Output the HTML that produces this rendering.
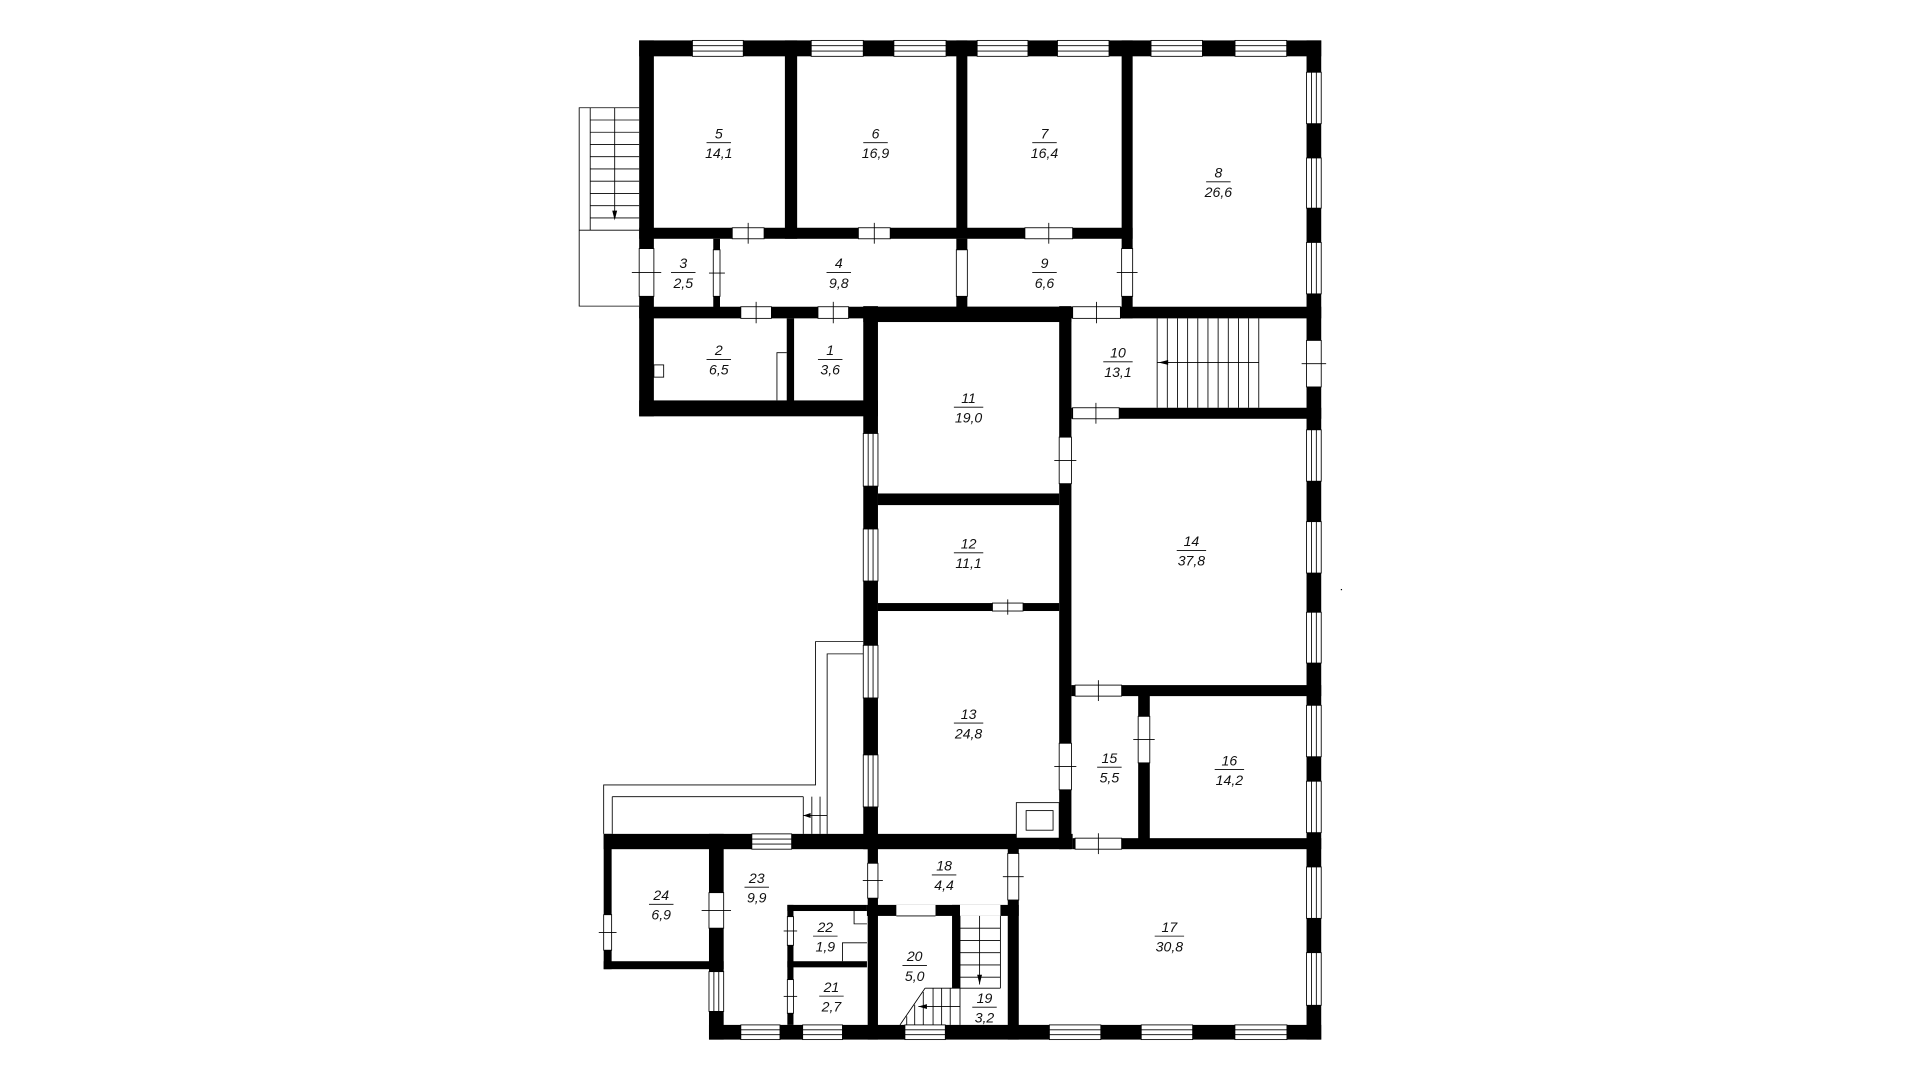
<!DOCTYPE html>
<html><head><meta charset="utf-8"><style>
html,body{margin:0;padding:0;background:#fff;}
svg{display:block}
.w{fill:#fff;stroke:#000;stroke-width:.7}
line,polyline,path.l{stroke:#000;stroke-width:.7;fill:none}
.b{fill:#000}
text{font-family:"Liberation Sans",sans-serif;font-style:italic;font-size:11.5px;fill:#111;text-anchor:middle}
</style></head><body>
<svg width="1920" height="1080" viewBox="0 0 1568 882" preserveAspectRatio="none">
<rect width="1568" height="882" fill="#fff"/>
<!-- exterior stair left -->
<g>
<polyline points="522,88 473,88 473,250 522,250"/>
<line x1="473" y1="188" x2="522" y2="188"/>
<line x1="482" y1="88" x2="482" y2="188"/>
<line x1="502" y1="88" x2="502" y2="178"/>
<line x1="482" y1="98" x2="522" y2="98"/><line x1="482" y1="108" x2="522" y2="108"/><line x1="482" y1="118" x2="522" y2="118"/><line x1="482" y1="128" x2="522" y2="128"/><line x1="482" y1="138" x2="522" y2="138"/><line x1="482" y1="148" x2="522" y2="148"/><line x1="482" y1="158" x2="522" y2="158"/><line x1="482" y1="168" x2="522" y2="168"/><line x1="482" y1="178" x2="522" y2="178"/>
<path d="M500,172 L504,172 L502,180 Z" class="b"/>
</g>
<!-- terrace -->
<polyline points="493,681 493,641 666,641 666,524 705,524"/>
<polyline points="705,534 675.5,534 675.5,681"/>
<line x1="500" y1="650.6" x2="656" y2="650.6"/>
<line x1="500" y1="650.6" x2="500" y2="681"/>
<line x1="656" y1="650.6" x2="656" y2="681"/>
<line x1="663" y1="650.6" x2="663" y2="681"/>
<line x1="669.7" y1="650.6" x2="669.7" y2="681"/>
<line x1="656" y1="666" x2="675.5" y2="666"/>
<path d="M656,666 L662,664 L662,668 Z" class="b"/>

<!-- walls -->
<g class="b">
<rect x="522" y="33" width="557" height="13"/>
<rect x="1067" y="33" width="12" height="816"/>
<rect x="522" y="33" width="12" height="307"/>
<rect x="522" y="327" width="195" height="13"/>
<rect x="705" y="250" width="12" height="443.5"/>
<rect x="493" y="681" width="383" height="12.5"/>
<rect x="876" y="684.5" width="203" height="9"/>
<rect x="493" y="681" width="6.5" height="110.5"/>
<rect x="493" y="785" width="98" height="6.5"/>
<rect x="579" y="681" width="12" height="168"/>
<rect x="579" y="837" width="500" height="12"/>
<rect x="522" y="186" width="403" height="9"/>
<rect x="641" y="33" width="10" height="162"/>
<rect x="781" y="33" width="9" height="162"/>
<rect x="916" y="33" width="9" height="227"/>
<rect x="522" y="250.5" width="557" height="9.5"/>
<rect x="705" y="250.5" width="170" height="12.5"/>
<rect x="582.5" y="195" width="5.5" height="56"/>
<rect x="781" y="195" width="9" height="56"/>
<rect x="642.5" y="260" width="6" height="68"/>
<rect x="865" y="250" width="10" height="443.5"/>
<rect x="875" y="333" width="204" height="9"/>
<rect x="717" y="403" width="148" height="9.5"/>
<rect x="717" y="492.5" width="148" height="6.5"/>
<rect x="875" y="559.5" width="204" height="9"/>
<rect x="929.5" y="568" width="9.5" height="117"/>
<rect x="708.6" y="693" width="8.4" height="156"/>
<rect x="823" y="693" width="9" height="156"/>
<rect x="708" y="739" width="124" height="9"/>
<rect x="777.5" y="739" width="6.5" height="68"/>
<rect x="643" y="739" width="5" height="98"/>
<rect x="643" y="739" width="65" height="5"/>
<rect x="643" y="785" width="65" height="5"/>
</g>

<!-- windows top -->
<g>
<rect class="w" x="565.5" y="33" width="41.5" height="13"/><line x1="565.5" y1="37.3" x2="607" y2="37.3"/><line x1="565.5" y1="41.7" x2="607" y2="41.7"/>
<rect class="w" x="662.5" y="33" width="42.5" height="13"/><line x1="662.5" y1="37.3" x2="705" y2="37.3"/><line x1="662.5" y1="41.7" x2="705" y2="41.7"/>
<rect class="w" x="730" y="33" width="42.6" height="13"/><line x1="730" y1="37.3" x2="772.6" y2="37.3"/><line x1="730" y1="41.7" x2="772.6" y2="41.7"/>
<rect class="w" x="798" y="33" width="41.5" height="13"/><line x1="798" y1="37.3" x2="839.5" y2="37.3"/><line x1="798" y1="41.7" x2="839.5" y2="41.7"/>
<rect class="w" x="863.6" y="33" width="42.1" height="13"/><line x1="863.6" y1="37.3" x2="905.7" y2="37.3"/><line x1="863.6" y1="41.7" x2="905.7" y2="41.7"/>
<rect class="w" x="940" y="33" width="42" height="13"/><line x1="940" y1="37.3" x2="982" y2="37.3"/><line x1="940" y1="41.7" x2="982" y2="41.7"/>
<rect class="w" x="1008.6" y="33" width="42.2" height="13"/><line x1="1008.6" y1="37.3" x2="1050.8" y2="37.3"/><line x1="1008.6" y1="41.7" x2="1050.8" y2="41.7"/>
</g>
<!-- windows right -->
<g>
<rect class="w" x="1067" y="59" width="12" height="42"/><line x1="1071" y1="59" x2="1071" y2="101"/><line x1="1075" y1="59" x2="1075" y2="101"/>
<rect class="w" x="1067" y="129" width="12" height="41"/><line x1="1071" y1="129" x2="1071" y2="170"/><line x1="1075" y1="129" x2="1075" y2="170"/>
<rect class="w" x="1067" y="198" width="12" height="42"/><line x1="1071" y1="198" x2="1071" y2="240"/><line x1="1075" y1="198" x2="1075" y2="240"/>
<rect class="w" x="1067" y="351" width="12" height="42"/><line x1="1071" y1="351" x2="1071" y2="393"/><line x1="1075" y1="351" x2="1075" y2="393"/>
<rect class="w" x="1067" y="426" width="12" height="42"/><line x1="1071" y1="426" x2="1071" y2="468"/><line x1="1075" y1="426" x2="1075" y2="468"/>
<rect class="w" x="1067" y="500" width="12" height="41.5"/><line x1="1071" y1="500" x2="1071" y2="541.5"/><line x1="1075" y1="500" x2="1075" y2="541.5"/>
<rect class="w" x="1067" y="576" width="12" height="42"/><line x1="1071" y1="576" x2="1071" y2="618"/><line x1="1075" y1="576" x2="1075" y2="618"/>
<rect class="w" x="1067" y="638" width="12" height="42"/><line x1="1071" y1="638" x2="1071" y2="680"/><line x1="1075" y1="638" x2="1075" y2="680"/>
<rect class="w" x="1067" y="708" width="12" height="42"/><line x1="1071" y1="708" x2="1071" y2="750"/><line x1="1075" y1="708" x2="1075" y2="750"/>
<rect class="w" x="1067" y="778" width="12" height="43"/><line x1="1071" y1="778" x2="1071" y2="821"/><line x1="1075" y1="778" x2="1075" y2="821"/>
</g>
<!-- windows bottom -->
<g>
<rect class="w" x="605" y="837" width="32" height="12"/><line x1="605" y1="841" x2="637" y2="841"/><line x1="605" y1="845" x2="637" y2="845"/>
<rect class="w" x="655.5" y="837" width="32.5" height="12"/><line x1="655.5" y1="841" x2="688" y2="841"/><line x1="655.5" y1="845" x2="688" y2="845"/>
<rect class="w" x="739" y="837" width="33" height="12"/><line x1="739" y1="841" x2="772" y2="841"/><line x1="739" y1="845" x2="772" y2="845"/>
<rect class="w" x="857" y="837" width="42" height="12"/><line x1="857" y1="841" x2="899" y2="841"/><line x1="857" y1="845" x2="899" y2="845"/>
<rect class="w" x="932" y="837" width="42" height="12"/><line x1="932" y1="841" x2="974" y2="841"/><line x1="932" y1="845" x2="974" y2="845"/>
<rect class="w" x="1008.5" y="837" width="42.5" height="12"/><line x1="1008.5" y1="841" x2="1051" y2="841"/><line x1="1008.5" y1="845" x2="1051" y2="845"/>
</g>
<!-- windows west corridor wall -->
<g>
<rect class="w" x="705" y="354" width="12" height="43"/><line x1="709" y1="354" x2="709" y2="397"/><line x1="713" y1="354" x2="713" y2="397"/>
<rect class="w" x="705" y="432" width="12" height="42.5"/><line x1="709" y1="432" x2="709" y2="474.5"/><line x1="713" y1="432" x2="713" y2="474.5"/>
<rect class="w" x="705" y="527" width="12" height="43"/><line x1="709" y1="527" x2="709" y2="570"/><line x1="713" y1="527" x2="713" y2="570"/>
<rect class="w" x="705" y="616.5" width="12" height="42.5"/><line x1="709" y1="616.5" x2="709" y2="659"/><line x1="713" y1="616.5" x2="713" y2="659"/>
<rect class="w" x="614" y="681" width="32.5" height="12.5"/><line x1="614" y1="685.2" x2="646.5" y2="685.2"/><line x1="614" y1="689.3" x2="646.5" y2="689.3"/>
<rect class="w" x="579" y="793.5" width="12" height="32.5"/><line x1="583" y1="793.5" x2="583" y2="826"/><line x1="587" y1="793.5" x2="587" y2="826"/>
</g>

<!-- doors horizontal walls -->
<g>
<rect class="w" x="598" y="186" width="26" height="9"/><line x1="611" y1="182" x2="611" y2="199"/>
<rect class="w" x="701" y="186" width="26" height="9"/><line x1="714" y1="182" x2="714" y2="199"/>
<rect class="w" x="837" y="186" width="39" height="9"/><line x1="856.5" y1="182" x2="856.5" y2="199"/>
<rect class="w" x="605" y="250.5" width="25" height="9.5"/><line x1="617.5" y1="246.5" x2="617.5" y2="264"/>
<rect class="w" x="668" y="250.5" width="25" height="9.5"/><line x1="680.5" y1="246.5" x2="680.5" y2="264"/>
<rect class="w" x="876" y="250.5" width="39" height="9.5"/><line x1="895.5" y1="246.5" x2="895.5" y2="264"/>
<rect class="w" x="876" y="333" width="38" height="9"/><line x1="895" y1="329" x2="895" y2="346"/>
<rect class="w" x="810.5" y="492.5" width="25" height="6.5"/><line x1="823" y1="489.5" x2="823" y2="502"/>
<rect class="w" x="878" y="559.5" width="38" height="9"/><line x1="897" y1="555.5" x2="897" y2="572.5"/>
<rect class="w" x="878" y="684.5" width="38" height="9"/><line x1="897" y1="680.5" x2="897" y2="697.5"/>
</g>
<!-- doors vertical walls -->
<g>
<rect class="w" x="522" y="203" width="12" height="39"/><line x1="516" y1="222.5" x2="540" y2="222.5"/>
<rect class="w" x="582.5" y="204" width="5.5" height="38"/><line x1="579" y1="223" x2="592" y2="223"/>
<rect class="w" x="781" y="204" width="9" height="38"/>
<rect class="w" x="916" y="203" width="9" height="39"/><line x1="912" y1="222.5" x2="929" y2="222.5"/>
<rect class="w" x="865" y="357" width="10" height="38"/><line x1="861" y1="376" x2="879" y2="376"/>
<rect class="w" x="1067" y="278" width="12" height="38"/><line x1="1063" y1="297" x2="1083" y2="297"/>
<rect class="w" x="865" y="607" width="10" height="38"/><line x1="861" y1="626" x2="879" y2="626"/>
<rect class="w" x="929.5" y="585" width="9.5" height="38"/><line x1="925.5" y1="604" x2="943" y2="604"/>
<rect class="w" x="708.6" y="705" width="8.4" height="28.5"/><line x1="704.6" y1="719" x2="721" y2="719"/>
<rect class="w" x="823" y="697" width="9" height="38"/><line x1="819" y1="716" x2="836" y2="716"/>
<rect class="w" x="493" y="747" width="6.5" height="29"/><line x1="489" y1="761.5" x2="503.5" y2="761.5"/>
<rect class="w" x="579" y="729" width="12" height="29"/><line x1="573" y1="743.5" x2="597" y2="743.5"/>
<rect class="w" x="643" y="748.6" width="5" height="23.4"/><line x1="640" y1="760.3" x2="651" y2="760.3"/>
<rect class="w" x="643" y="800" width="5" height="27.5"/><line x1="640" y1="813.7" x2="651" y2="813.7"/>
</g>
<!-- openings in 18 bottom -->
<rect fill="#fff" x="732" y="739" width="32" height="9"/>
<line x1="732" y1="748" x2="764" y2="748"/>
<rect fill="#fff" x="784" y="739" width="33" height="9"/>

<!-- fixtures -->
<rect class="w" x="534" y="298" width="8" height="10"/>
<polyline points="634.5,327 634.5,288 642.5,288"/>
<rect class="w" x="830" y="655.5" width="35" height="29"/>
<rect class="w" x="838" y="662" width="22" height="16"/>
<polyline points="697.5,744 697.5,754.5 708,754.5"/>
<polyline points="688,785 688,770 708,770"/>

<!-- stair room 10 -->
<g>
<line x1="945" y1="260" x2="945" y2="333"/><line x1="953.3" y1="260" x2="953.3" y2="333"/><line x1="961.6" y1="260" x2="961.6" y2="333"/><line x1="969.9" y1="260" x2="969.9" y2="333"/><line x1="978.2" y1="260" x2="978.2" y2="333"/><line x1="986.5" y1="260" x2="986.5" y2="333"/><line x1="994.8" y1="260" x2="994.8" y2="333"/><line x1="1003.1" y1="260" x2="1003.1" y2="333"/><line x1="1011.4" y1="260" x2="1011.4" y2="333"/><line x1="1019.7" y1="260" x2="1019.7" y2="333"/><line x1="1028" y1="260" x2="1028" y2="333"/>
<line x1="945" y1="296" x2="1028" y2="296"/>
<path d="M946,296 L954,294 L954,298 Z" class="b"/>
</g>
<!-- stair 19 -->
<g>
<line x1="784" y1="748" x2="784" y2="837"/><line x1="817" y1="748" x2="817" y2="807"/><line x1="800" y1="748" x2="800" y2="804"/>
<line x1="784" y1="758" x2="817" y2="758"/><line x1="784" y1="768" x2="817" y2="768"/><line x1="784" y1="778" x2="817" y2="778"/><line x1="784" y1="788" x2="817" y2="788"/><line x1="784" y1="798" x2="817" y2="798"/><line x1="755.5" y1="807" x2="817" y2="807"/>
<path d="M798,796 L802,796 L800,804 Z" class="b"/>
<line x1="755.5" y1="807" x2="735" y2="837"/>
<line x1="740.5" y1="830" x2="740.5" y2="837"/><line x1="747" y1="820.5" x2="747" y2="837"/><line x1="754" y1="810" x2="754" y2="837"/><line x1="762" y1="807" x2="762" y2="837"/><line x1="769" y1="807" x2="769" y2="837"/><line x1="776" y1="807" x2="776" y2="837"/>
<line x1="750" y1="822" x2="784" y2="822"/>
<path d="M750,822 L757,820 L757,824 Z" class="b"/>
</g>

<!-- labels -->
<g>
<text x="587" y="113">5</text><line x1="577" y1="116.5" x2="597" y2="116.5"/><text x="587" y="129">14,1</text>
<text x="715" y="113">6</text><line x1="705" y1="116.5" x2="725" y2="116.5"/><text x="715" y="129">16,9</text>
<text x="853" y="113">7</text><line x1="843" y1="116.5" x2="863" y2="116.5"/><text x="853" y="129">16,4</text>
<text x="995" y="145">8</text><line x1="985" y1="148.5" x2="1005" y2="148.5"/><text x="995" y="161">26,6</text>
<text x="558" y="219">3</text><line x1="548" y1="222.5" x2="568" y2="222.5"/><text x="558" y="235">2,5</text>
<text x="685" y="219">4</text><line x1="675" y1="222.5" x2="695" y2="222.5"/><text x="685" y="235">9,8</text>
<text x="853" y="219">9</text><line x1="843" y1="222.5" x2="863" y2="222.5"/><text x="853" y="235">6,6</text>
<text x="587" y="290">2</text><line x1="577" y1="293.5" x2="597" y2="293.5"/><text x="587" y="306">6,5</text>
<text x="678" y="290">1</text><line x1="668" y1="293.5" x2="688" y2="293.5"/><text x="678" y="306">3,6</text>
<text x="913" y="292">10</text><line x1="901" y1="295.5" x2="925" y2="295.5"/><text x="913" y="308">13,1</text>
<text x="791" y="329">11</text><line x1="779" y1="332.5" x2="803" y2="332.5"/><text x="791" y="345">19,0</text>
<text x="791" y="448">12</text><line x1="779" y1="451.5" x2="803" y2="451.5"/><text x="791" y="464">11,1</text>
<text x="973" y="446">14</text><line x1="961" y1="449.5" x2="985" y2="449.5"/><text x="973" y="462">37,8</text>
<text x="791" y="587">13</text><line x1="779" y1="590.5" x2="803" y2="590.5"/><text x="791" y="603">24,8</text>
<text x="906" y="623">15</text><line x1="896" y1="626.5" x2="916" y2="626.5"/><text x="906" y="639">5,5</text>
<text x="1004" y="625">16</text><line x1="992" y1="628.5" x2="1016" y2="628.5"/><text x="1004" y="641">14,2</text>
<text x="771" y="711">18</text><line x1="761" y1="714.5" x2="781" y2="714.5"/><text x="771" y="727">4,4</text>
<text x="618" y="721">23</text><line x1="608" y1="724.5" x2="628" y2="724.5"/><text x="618" y="737">9,9</text>
<text x="540" y="735">24</text><line x1="530" y1="738.5" x2="550" y2="738.5"/><text x="540" y="751">6,9</text>
<text x="674" y="761">22</text><line x1="664" y1="764.5" x2="684" y2="764.5"/><text x="674" y="777">1,9</text>
<text x="955" y="761">17</text><line x1="943" y1="764.5" x2="967" y2="764.5"/><text x="955" y="777">30,8</text>
<text x="747" y="785">20</text><line x1="737" y1="788.5" x2="757" y2="788.5"/><text x="747" y="801">5,0</text>
<text x="679" y="810">21</text><line x1="669" y1="813.5" x2="689" y2="813.5"/><text x="679" y="826">2,7</text>
<text x="804" y="819">19</text><line x1="794" y1="822.5" x2="814" y2="822.5"/><text x="804" y="835">3,2</text>
</g>
<rect x="1095" y="481" width="1" height="1" fill="#000"/>
</svg>
</body></html>
